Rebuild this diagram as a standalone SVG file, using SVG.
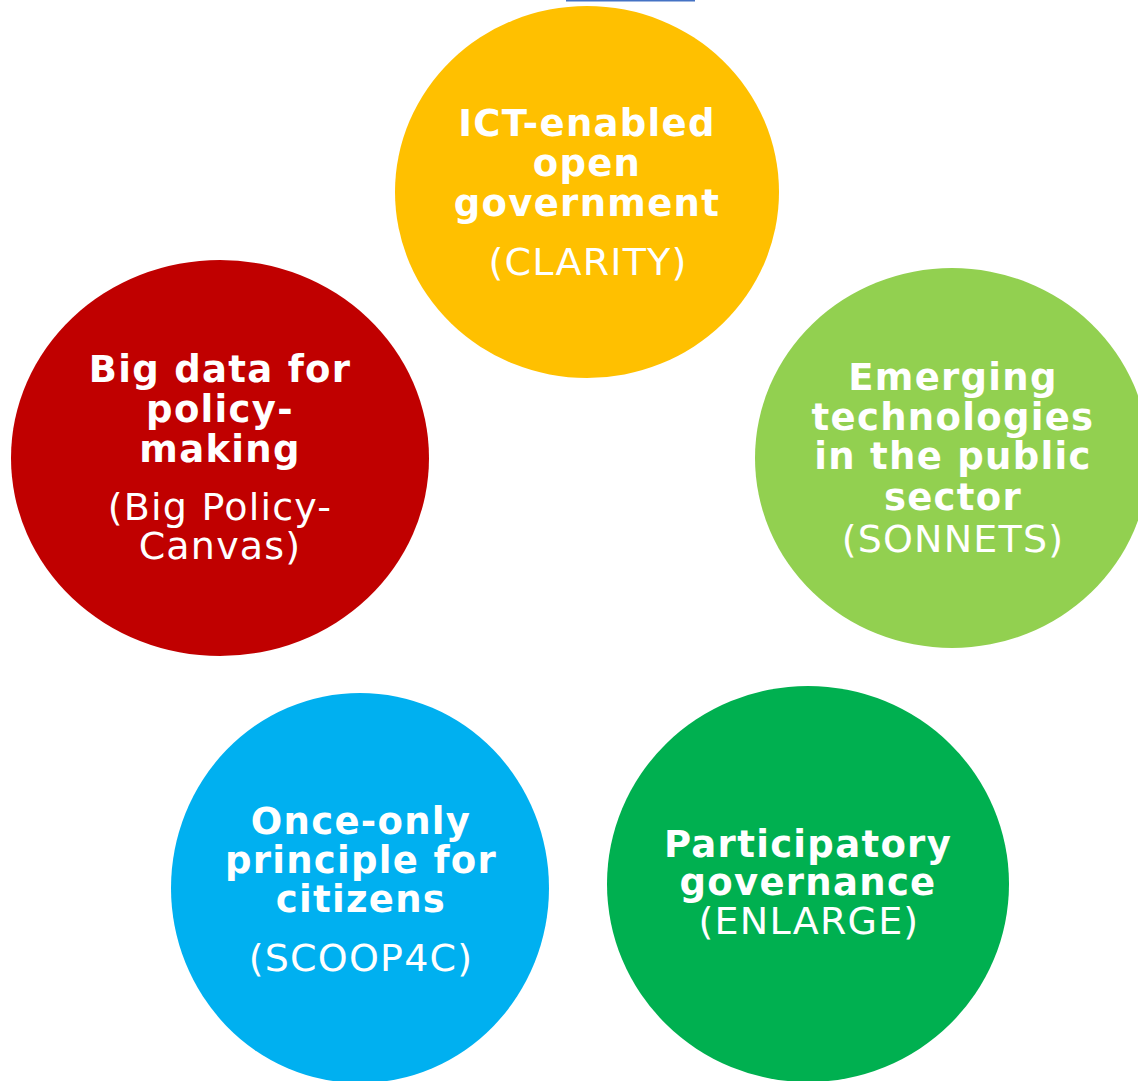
<svg xmlns="http://www.w3.org/2000/svg" width="1138" height="1081" viewBox="0 0 1138 1081">
<style>
.b{font-family:"DejaVu Sans","Verdana",sans-serif;font-weight:bold;font-size:37px;letter-spacing:1.3px;fill:#fff;text-anchor:middle}
.r{font-family:"DejaVu Sans","Verdana",sans-serif;font-size:38px;letter-spacing:1.2px;fill:#fff;text-anchor:middle}
</style>
<rect width="1138" height="1081" fill="#fff"/>
<line x1="566" y1="0.5" x2="695" y2="0.5" stroke="#4472C4" stroke-width="2"/>
<g id="node-clarity">
<ellipse cx="587" cy="192" rx="192" ry="186" fill="#FFC000"/>
<text class="b" x="587" y="136">ICT-enabled</text>
<text class="b" x="587" y="176">open</text>
<text class="b" x="587" y="216">government</text>
<text class="r" x="588" y="275">(CLARITY)</text>
</g>
<g id="node-bigpolicy">
<ellipse cx="220" cy="458" rx="209" ry="198" fill="#C00000"/>
<text class="b" x="220" y="382">Big data for</text>
<text class="b" x="220" y="422">policy-</text>
<text class="b" x="220" y="462">making</text>
<text class="r" x="220" y="520">(Big Policy-</text>
<text class="r" x="220" y="559">Canvas)</text>
</g>
<g id="node-sonnets">
<ellipse cx="952" cy="458" rx="197" ry="190" fill="#92D050"/>
<text class="b" x="953" y="390">Emerging</text>
<text class="b" x="953" y="430">technologies</text>
<text class="b" x="953" y="469">in the public</text>
<text class="b" x="953" y="510">sector</text>
<text class="r" x="953" y="552">(SONNETS)</text>
</g>
<g id="node-scoop4c">
<ellipse cx="360" cy="888" rx="189" ry="195" fill="#00B0F0"/>
<text class="b" x="361" y="834">Once-only</text>
<text class="b" x="361" y="873">principle for</text>
<text class="b" x="361" y="912">citizens</text>
<text class="r" x="361" y="971">(SCOOP4C)</text>
</g>
<g id="node-enlarge">
<ellipse cx="808" cy="884" rx="201" ry="198" fill="#00B050"/>
<text class="b" x="808" y="857">Participatory</text>
<text class="b" x="808" y="895">governance</text>
<text class="r" x="809" y="934">(ENLARGE)</text>
</g>
<g id="connectors"></g>
</svg>
